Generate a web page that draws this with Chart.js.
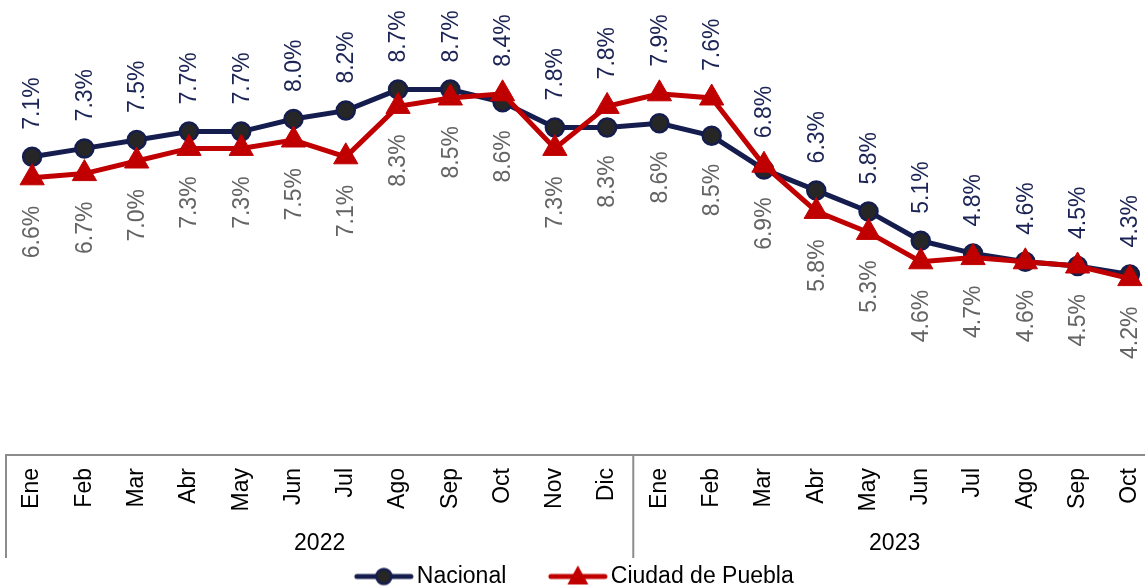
<!DOCTYPE html>
<html>
<head>
<meta charset="utf-8">
<script src="https://cdn.jsdelivr.net/npm/chart.js@4.4.1/dist/chart.umd.min.js"></script>
<style>
html,body{margin:0;padding:0;overflow:hidden;background:#ffffff}
#wrap{position:absolute;left:0;top:0;width:1156px;height:598px}
</style>
</head>
<body>
<div id="wrap"><canvas id="c"></canvas></div>
<script>
const months = ['Ene','Feb','Mar','Abr','May','Jun','Jul','Ago','Sep','Oct','Nov','Dic',
                'Ene','Feb','Mar','Abr','May','Jun','Jul','Ago','Sep','Oct'];
const years = ['2022','2023'];
const yearSpans = [12, 10];
const nacional = [7.1,7.3,7.5,7.7,7.7,8.0,8.2,8.7,8.7,8.4,7.8,7.8,7.9,7.6,6.8,6.3,5.8,5.1,4.8,4.6,4.5,4.3];
const puebla   = [6.6,6.7,7.0,7.3,7.3,7.5,7.1,8.3,8.5,8.6,7.3,8.3,8.6,8.5,6.9,5.8,5.3,4.6,4.7,4.6,4.5,4.2];
const seriesNames = ['Nacional','Ciudad de Puebla'];

const FONT = '"Liberation Sans", Arial, sans-serif';
const NAVY = '#151D4E';
const NAVY_TXT = '#1C2455';
const RED = '#C00000';
const GRAY_TXT = '#646464';
const DOT = '#262626';
const AXIS = '#8C8C8C';

function fmt(v){ return v.toFixed(1) + '%'; }

function makeIcon(kind){
  const c = document.createElement('canvas');
  c.width = 62; c.height = 26;
  const g = c.getContext('2d');
  const cy = 13, x0 = 4, x1 = 58, cx = (x0 + x1) / 2;
  g.lineCap = 'round';
  g.lineWidth = 5;
  g.strokeStyle = kind === 0 ? NAVY : RED;
  g.beginPath(); g.moveTo(x0, cy); g.lineTo(x1, cy); g.stroke();
  if (kind === 0) {
    g.beginPath(); g.arc(cx, cy, 7.5, 0, Math.PI*2);
    g.fillStyle = DOT; g.fill();
    g.lineWidth = 2.5; g.strokeStyle = NAVY; g.stroke();
  } else {
    g.beginPath();
    g.moveTo(cx, cy-11); g.lineTo(cx+10.5, cy+8); g.lineTo(cx-10.5, cy+8); g.closePath();
    g.fillStyle = RED; g.fill();
  }
  return c;
}
const legendIcons = [makeIcon(0), makeIcon(1)];

const labelPlugin = {
  id: 'pointLabels',
  afterDatasetsDraw(chart){
    const ctx = chart.ctx;
    const m0 = chart.getDatasetMeta(0), m1 = chart.getDatasetMeta(1);
    ctx.save();
    ctx.font = 'normal 400 23px ' + FONT;
    ctx.textBaseline = 'middle';
    m0.data.forEach((p, i) => {
      const q = m1.data[i];
      const top = Math.min(p.y, q.y), bot = Math.max(p.y, q.y);
      ctx.save();
      ctx.translate(p.x + 1, top - 27);
      ctx.rotate(-Math.PI/2);
      ctx.textAlign = 'left';
      ctx.fillStyle = NAVY_TXT;
      ctx.fillText(fmt(nacional[i]), 0, 0);
      ctx.restore();
      ctx.save();
      ctx.translate(q.x + 1, bot + 28);
      ctx.rotate(-Math.PI/2);
      ctx.textAlign = 'right';
      ctx.fillStyle = GRAY_TXT;
      ctx.fillText(fmt(puebla[i]), 0, 0);
      ctx.restore();
    });
    ctx.restore();
  }
};

const tablePlugin = {
  id: 'catTable',
  afterDraw(chart){
    const ctx = chart.ctx;
    const xs = chart.scales.x;
    const step = xs.getPixelForValue(1) - xs.getPixelForValue(0);
    const top = chart.chartArea.bottom;
    const bottom = top + 103;
    ctx.save();
    ctx.strokeStyle = AXIS;
    ctx.lineWidth = 2;
    const vline = x => { ctx.beginPath(); ctx.moveTo(x, top); ctx.lineTo(x, bottom); ctx.stroke(); };
    let idx = 0;
    vline(xs.getPixelForValue(0) - step/2);
    ctx.font = '23px ' + FONT;
    ctx.fillStyle = '#000';
    ctx.textAlign = 'center';
    ctx.textBaseline = 'middle';
    years.forEach((y, k) => {
      const x0 = xs.getPixelForValue(idx) - step/2;
      const x1 = xs.getPixelForValue(idx + yearSpans[k] - 1) + step/2;
      vline(x1);
      ctx.fillText(y, (x0 + x1)/2, top + 89);
      idx += yearSpans[k];
    });
    ctx.restore();
  }
};

new Chart(document.getElementById('c'), {
  type: 'line',
  data: {
    labels: months,
    datasets: [
      {
        label: seriesNames[0], data: nacional, order: 1,
        borderColor: NAVY, borderWidth: 5, backgroundColor: DOT,
        pointStyle: 'circle', pointRadius: 9, pointBorderWidth: 2.5,
        pointBackgroundColor: DOT, pointBorderColor: NAVY, tension: 0
      },
      {
        label: seriesNames[1], data: puebla, order: 0,
        borderColor: RED, borderWidth: 5, backgroundColor: RED,
        pointStyle: 'triangle', pointRadius: 14, pointBorderWidth: 1,
        pointBackgroundColor: RED, pointBorderColor: RED, tension: 0
      }
    ]
  },
  options: {
    responsive: true,
    maintainAspectRatio: false,
    animation: false,
    events: [],
    layout: { autoPadding: false, padding: { left: 0, right: 0, top: 35, bottom: 0 } },
    scales: {
      x: {
        offset: true,
        grid: { display: false, drawTicks: false },
        border: { display: true, color: AXIS, width: 2 },
        ticks: {
          autoSkip: false, minRotation: 90, maxRotation: 90, padding: 13,
          color: '#000', font: { size: 23, family: FONT }
        },
        afterFit(s){ s.height = 60; s.paddingLeft = 0; s.paddingRight = 0; }
      },
      y: {
        display: true, min: 0, max: 10,
        grid: { display: false, drawTicks: false },
        border: { display: false },
        ticks: { display: false },
        afterFit(s){ s.width = 6; s.paddingTop = 0; s.paddingBottom = 0; }
      }
    },
    plugins: {
      tooltip: { enabled: false },
      legend: {
        position: 'bottom',
        labels: {
          usePointStyle: true,
          pointStyleWidth: 43,
          padding: 50,
          color: '#000',
          font: { size: 23, family: FONT },
          generateLabels(chart){
            return chart.data.datasets.map((d, i) => ({
              text: d.label, pointStyle: legendIcons[i], fillStyle: '#000',
              strokeStyle: '#000', lineWidth: 0, hidden: false, datasetIndex: i, fontColor: '#000'
            }));
          }
        }
      }
    }
  },
  plugins: [labelPlugin, tablePlugin]
});
</script>
</body>
</html>
